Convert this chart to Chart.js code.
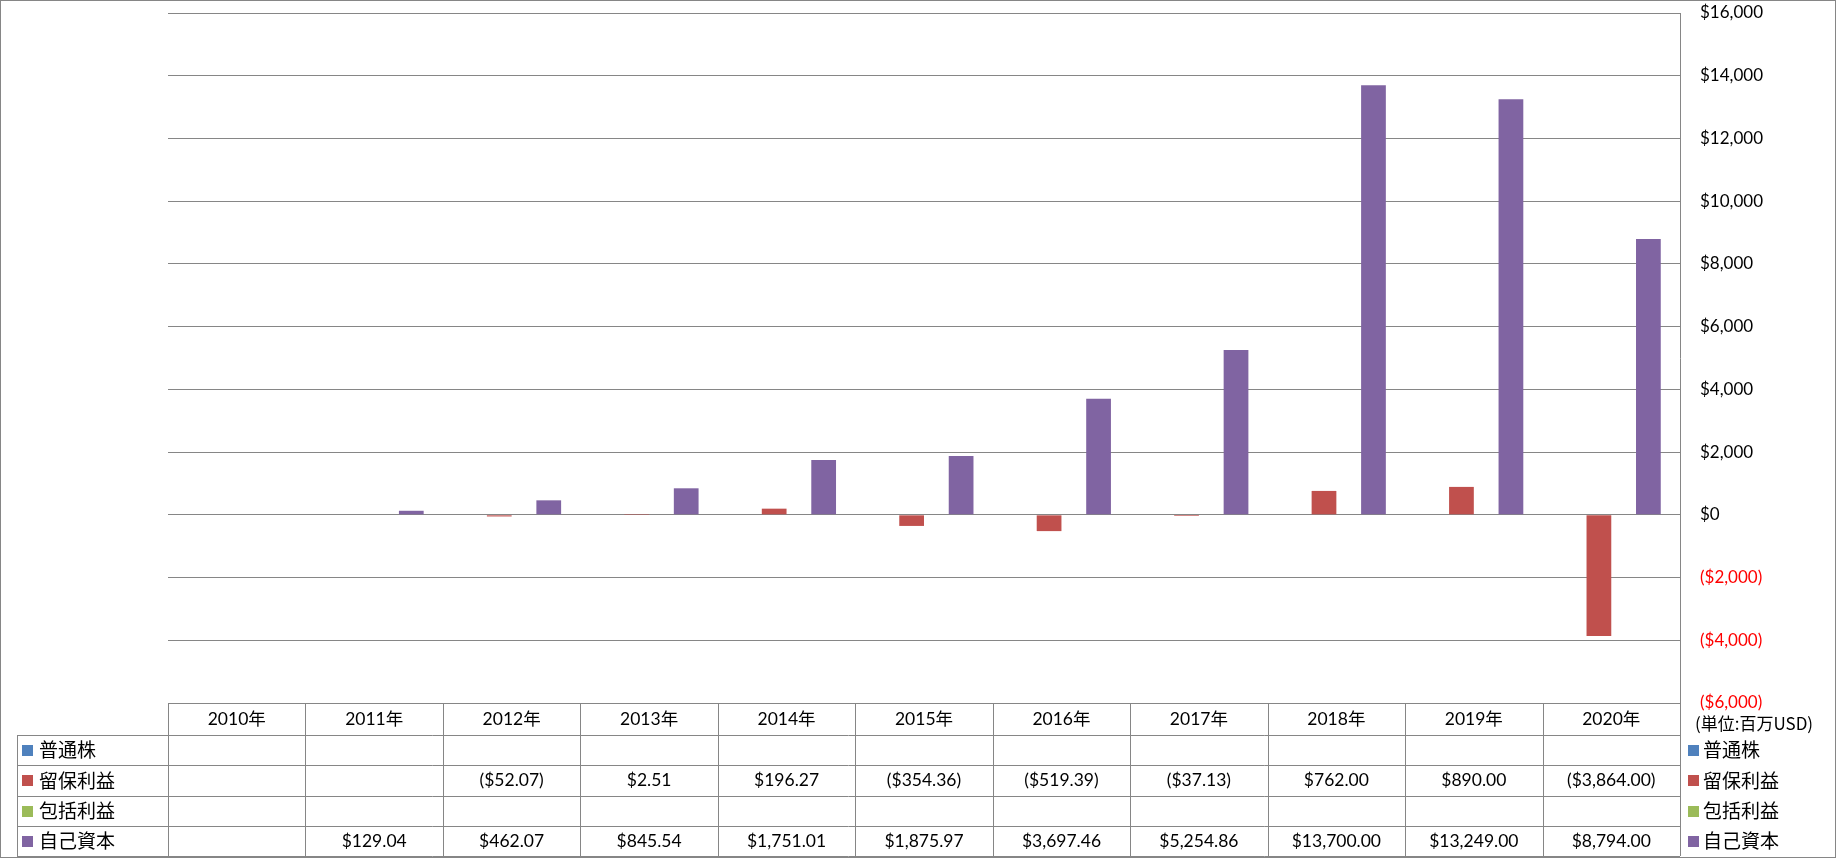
<!DOCTYPE html>
<html>
<head>
<meta charset="utf-8">
<script src="https://cdn.jsdelivr.net/npm/chart.js@4.4.1/dist/chart.umd.min.js"></script>
<style>
  body { margin: 0; background: #fff; }
  #wrap { width: 1836px; height: 858px; }
</style>
</head>
<body>
<div id="wrap"><canvas id="equityChart" width="1836" height="858"></canvas></div>
<script>
// Data (units: million USD)
const years = ['2010年', '2011年', '2012年', '2013年', '2014年', '2015年', '2016年', '2017年', '2018年', '2019年', '2020年'];
const commonStock = [null, null, null, null, null, null, null, null, null, null, null];
const retainedEarnings = [null, null, -52.07, 2.51, 196.27, -354.36, -519.39, -37.13, 762.00, 890.00, -3864.00];
const comprehensiveIncome = [null, null, null, null, null, null, null, null, null, null, null];
const equity = [null, 129.04, 462.07, 845.54, 1751.01, 1875.97, 3697.46, 5254.86, 13700.00, 13249.00, 8794.00];
const seriesNames = ['普通株', '留保利益', '包括利益', '自己資本'];
const yMin = -6000, yMax = 16000, yStep = 2000;
const unitLabel = '(単位:百万USD)';

const colors = ['#4F81BD', '#C0504D', '#9BBB59', '#8064A2'];
const lineColor = '#868686';
const FONT = "Lato, 'Noto Sans CJK JP', sans-serif";
const JP_FONT = "'Noto Sans CJK JP', Lato, sans-serif";

function money(v, decimals) {
    const s = '$' + Math.abs(v).toLocaleString('en-US', {
        minimumFractionDigits: decimals,
        maximumFractionDigits: decimals
    });
    return v < 0 ? '(' + s + ')' : s;
}

// Excel-style data table under the plot + legend on the right
const dataTablePlugin = {
    id: 'dataTable',
    afterDraw(chart) {
        const { ctx, chartArea, scales } = chart;
        const x = scales.x;
        const n = chart.data.labels.length;
        const colW = (chartArea.right - chartArea.left) / n;
        const top = chartArea.bottom;
        const headerH = 32;
        const bottom = chart.height - 2;
        const rowH = (bottom - top - headerH) / chart.data.datasets.length;
        const keyLeft = 17;

        ctx.save();
        ctx.strokeStyle = lineColor;
        ctx.lineWidth = 1;

        const hline = (x1, x2, y) => {
            y = Math.round(y) + 0.5;
            ctx.beginPath(); ctx.moveTo(x1, y); ctx.lineTo(x2, y); ctx.stroke();
        };
        const vline = (xx, y1, y2) => {
            xx = Math.round(xx) + 0.5;
            ctx.beginPath(); ctx.moveTo(xx, y1); ctx.lineTo(xx, y2); ctx.stroke();
        };

        hline(chartArea.left, chartArea.right, top);
        for (let r = 0; r <= chart.data.datasets.length; r++) {
            hline(keyLeft, chartArea.right, top + headerH + r * rowH);
        }
        for (let i = 0; i <= n; i++) {
            vline(chartArea.left + i * colW, top, bottom);
        }
        vline(keyLeft, top + headerH, bottom);

        ctx.textBaseline = 'middle';
        ctx.fillStyle = '#000';

        // header
        ctx.font = '17.5px ' + FONT;
        ctx.textAlign = 'center';
        chart.data.labels.forEach((lab, i) => {
            ctx.fillText(lab, x.getPixelForValue(i), top + headerH / 2);
        });

        // rows
        chart.data.datasets.forEach((ds, r) => {
            const cy = top + headerH + r * rowH + rowH / 2;
            ctx.font = '17.5px ' + FONT;
            ctx.textAlign = 'center';
            ctx.fillStyle = '#000';
            ds.data.forEach((v, i) => {
                if (v !== null && v !== undefined) {
                    ctx.fillText(money(v, 2), x.getPixelForValue(i), cy);
                }
            });

            // legend key inside the table
            ctx.textAlign = 'left';
            ctx.font = '19px ' + JP_FONT;
            ctx.fillStyle = ds.backgroundColor;
            ctx.fillRect(keyLeft + 5, Math.round(cy - 5), 11, 11);
            ctx.fillStyle = '#000';
            ctx.fillText(ds.label, keyLeft + 22, cy);

            // legend on the right side
            ctx.fillStyle = ds.backgroundColor;
            ctx.fillRect(chartArea.right + 8, Math.round(cy - 5), 11, 11);
            ctx.fillStyle = '#000';
            ctx.fillText(ds.label, chartArea.right + 23, cy);
        });

        // unit label
        ctx.font = '17px ' + JP_FONT;
        ctx.textAlign = 'left';
        ctx.fillText(unitLabel, chartArea.right + 15, top + 21);

        // outer frame
        ctx.strokeRect(0.5, 0.5, chart.width - 1, chart.height - 1);
        ctx.restore();
    }
};

const ctx = document.getElementById('equityChart').getContext('2d');
const datasets = [commonStock, retainedEarnings, comprehensiveIncome, equity].map((data, i) => ({
    label: seriesNames[i],
    data: data,
    backgroundColor: colors[i],
    borderWidth: 0,
    categoryPercentage: 0.72,
    barPercentage: 1.0
}));

new Chart(ctx, {
    type: 'bar',
    data: { labels: years, datasets: datasets },
    options: {
        responsive: false,
        animation: false,
        layout: {
            padding: { left: 168, top: 13, right: 0, bottom: 155 }
        },
        scales: {
            x: {
                display: false
            },
            y: {
                position: 'right',
                min: yMin,
                max: yMax,
                afterFit(scale) {
                    scale.width = 156;
                },
                ticks: {
                    stepSize: yStep,
                    padding: 0,
                    font: { family: FONT, size: 17 },
                    color: (c) => (c.tick && c.tick.value < 0 ? '#FF0000' : '#000'),
                    callback: (v) => money(v, 0)
                },
                grid: {
                    color: lineColor,
                    lineWidth: 1,
                    drawTicks: true,
                    tickLength: 20,
                    tickColor: 'rgba(0,0,0,0)'
                },
                border: {
                    display: true,
                    color: lineColor
                }
            }
        },
        plugins: {
            legend: { display: false },
            tooltip: { enabled: false }
        }
    },
    plugins: [dataTablePlugin]
});
</script>
</body>
</html>
